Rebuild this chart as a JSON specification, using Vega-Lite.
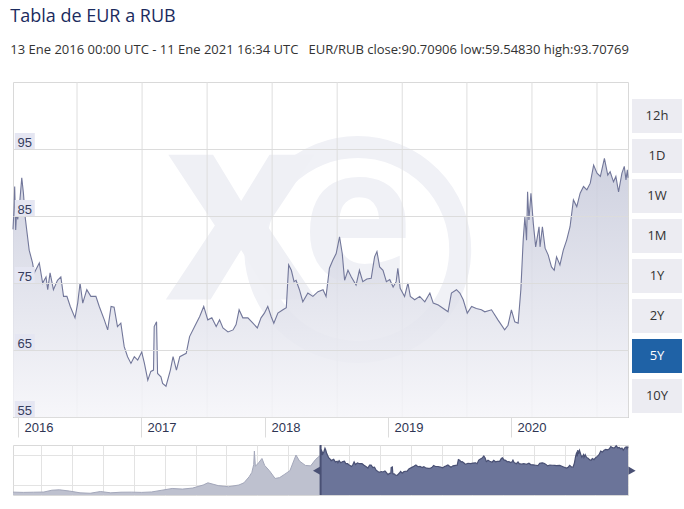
{
  "$schema": "https://vega.github.io/schema/vega-lite/v6.json",
  "background": "white",
  "padding": {"left": 10, "top": 8, "right": 4, "bottom": 4},
  "title": {
    "text": "Tabla de EUR a RUB",
    "subtitle": "13 Ene 2016 00:00 UTC - 11 Ene 2021 16:34 UTC\u00a0\u00a0\u00a0EUR/RUB close:90.70906 low:59.54830 high:93.70769",
    "anchor": "start",
    "font": "Open Sans",
    "fontSize": 18,
    "fontWeight": "normal",
    "color": "#1b2b5e",
    "subtitleFont": "Open Sans",
    "subtitleFontSize": 13,
    "subtitleColor": "#333333",
    "subtitlePadding": 18,
    "offset": 24
  },
  "config": {
    "view": {"stroke": "#d9d9d9"},
    "font": "Open Sans"
  },
  "datasets": {
    "main": [
      {"d": "2016-01-13", "v": 83.0}, {"d": "2016-01-16", "v": 86.0}, {"d": "2016-01-18", "v": 89.4},
      {"d": "2016-01-21", "v": 82.9}, {"d": "2016-01-24", "v": 85.9}, {"d": "2016-01-27", "v": 84.5},
      {"d": "2016-02-01", "v": 86.5}, {"d": "2016-02-08", "v": 90.7}, {"d": "2016-02-13", "v": 88.4},
      {"d": "2016-02-18", "v": 84.9}, {"d": "2016-02-22", "v": 83.2}, {"d": "2016-03-01", "v": 79.9},
      {"d": "2016-03-11", "v": 78.0}, {"d": "2016-03-16", "v": 76.5}, {"d": "2016-03-31", "v": 78.0},
      {"d": "2016-04-10", "v": 75.0}, {"d": "2016-04-20", "v": 75.9}, {"d": "2016-04-25", "v": 74.0},
      {"d": "2016-05-02", "v": 76.5}, {"d": "2016-05-12", "v": 74.0}, {"d": "2016-05-24", "v": 75.4},
      {"d": "2016-06-03", "v": 75.9}, {"d": "2016-06-11", "v": 73.0}, {"d": "2016-06-21", "v": 73.0},
      {"d": "2016-07-01", "v": 71.5}, {"d": "2016-07-15", "v": 69.8}, {"d": "2016-07-23", "v": 72.0},
      {"d": "2016-07-30", "v": 75.0}, {"d": "2016-08-07", "v": 72.0}, {"d": "2016-08-19", "v": 74.0},
      {"d": "2016-08-31", "v": 73.0}, {"d": "2016-09-15", "v": 73.0}, {"d": "2016-09-25", "v": 71.5},
      {"d": "2016-10-10", "v": 69.5}, {"d": "2016-10-20", "v": 68.0}, {"d": "2016-10-30", "v": 71.5},
      {"d": "2016-11-08", "v": 71.4}, {"d": "2016-11-18", "v": 68.5}, {"d": "2016-11-28", "v": 69.0},
      {"d": "2016-12-08", "v": 65.5}, {"d": "2016-12-18", "v": 64.0}, {"d": "2016-12-28", "v": 63.0},
      {"d": "2017-01-07", "v": 64.0}, {"d": "2017-01-17", "v": 63.5}, {"d": "2017-01-29", "v": 64.7},
      {"d": "2017-02-06", "v": 63.0}, {"d": "2017-02-16", "v": 60.5}, {"d": "2017-02-25", "v": 61.8},
      {"d": "2017-03-05", "v": 62.0}, {"d": "2017-03-07", "v": 68.5}, {"d": "2017-03-14", "v": 69.2},
      {"d": "2017-03-17", "v": 61.5}, {"d": "2017-03-27", "v": 61.0}, {"d": "2017-04-01", "v": 60.0},
      {"d": "2017-04-11", "v": 59.6}, {"d": "2017-04-24", "v": 62.0}, {"d": "2017-05-02", "v": 64.0},
      {"d": "2017-05-12", "v": 62.0}, {"d": "2017-05-22", "v": 64.0}, {"d": "2017-06-10", "v": 64.5},
      {"d": "2017-06-20", "v": 67.0}, {"d": "2017-07-05", "v": 68.5}, {"d": "2017-07-20", "v": 70.0},
      {"d": "2017-08-01", "v": 71.5}, {"d": "2017-08-13", "v": 69.5}, {"d": "2017-08-25", "v": 69.8},
      {"d": "2017-09-07", "v": 68.5}, {"d": "2017-09-17", "v": 69.5}, {"d": "2017-09-27", "v": 68.3},
      {"d": "2017-10-12", "v": 67.7}, {"d": "2017-10-27", "v": 68.0}, {"d": "2017-11-05", "v": 68.8},
      {"d": "2017-11-14", "v": 71.0}, {"d": "2017-11-25", "v": 69.8}, {"d": "2017-12-10", "v": 69.8},
      {"d": "2017-12-25", "v": 69.0}, {"d": "2018-01-07", "v": 68.3}, {"d": "2018-01-18", "v": 69.8},
      {"d": "2018-01-28", "v": 70.5}, {"d": "2018-02-07", "v": 71.5}, {"d": "2018-02-17", "v": 70.0},
      {"d": "2018-02-25", "v": 69.0}, {"d": "2018-03-09", "v": 70.5}, {"d": "2018-03-24", "v": 71.0},
      {"d": "2018-04-03", "v": 71.3}, {"d": "2018-04-10", "v": 77.7}, {"d": "2018-04-18", "v": 76.9},
      {"d": "2018-04-26", "v": 75.2}, {"d": "2018-05-02", "v": 75.4}, {"d": "2018-05-12", "v": 74.0},
      {"d": "2018-05-22", "v": 72.2}, {"d": "2018-06-06", "v": 73.5}, {"d": "2018-06-21", "v": 73.0},
      {"d": "2018-07-06", "v": 73.7}, {"d": "2018-07-21", "v": 74.0}, {"d": "2018-07-30", "v": 73.0},
      {"d": "2018-08-09", "v": 77.2}, {"d": "2018-08-19", "v": 78.4}, {"d": "2018-08-29", "v": 79.4},
      {"d": "2018-09-08", "v": 81.9}, {"d": "2018-09-16", "v": 79.4}, {"d": "2018-09-23", "v": 75.4},
      {"d": "2018-10-03", "v": 76.9}, {"d": "2018-10-13", "v": 75.9}, {"d": "2018-10-27", "v": 74.7},
      {"d": "2018-11-06", "v": 76.9}, {"d": "2018-11-16", "v": 75.2}, {"d": "2018-11-28", "v": 75.6},
      {"d": "2018-12-11", "v": 75.7}, {"d": "2018-12-21", "v": 78.9}, {"d": "2018-12-28", "v": 79.7},
      {"d": "2019-01-05", "v": 77.4}, {"d": "2019-01-15", "v": 76.9}, {"d": "2019-01-25", "v": 75.2},
      {"d": "2019-02-04", "v": 75.5}, {"d": "2019-02-14", "v": 74.4}, {"d": "2019-02-23", "v": 75.2},
      {"d": "2019-02-28", "v": 77.2}, {"d": "2019-03-07", "v": 74.2}, {"d": "2019-03-20", "v": 73.0},
      {"d": "2019-03-30", "v": 75.0}, {"d": "2019-04-06", "v": 73.0}, {"d": "2019-04-19", "v": 72.5},
      {"d": "2019-05-04", "v": 73.0}, {"d": "2019-05-19", "v": 72.2}, {"d": "2019-06-03", "v": 73.5},
      {"d": "2019-06-13", "v": 72.0}, {"d": "2019-06-28", "v": 71.7}, {"d": "2019-07-13", "v": 71.2},
      {"d": "2019-07-27", "v": 70.7}, {"d": "2019-08-06", "v": 73.5}, {"d": "2019-08-21", "v": 74.0},
      {"d": "2019-08-31", "v": 73.5}, {"d": "2019-09-10", "v": 72.5}, {"d": "2019-09-22", "v": 70.5},
      {"d": "2019-10-05", "v": 71.5}, {"d": "2019-10-19", "v": 71.2}, {"d": "2019-11-03", "v": 71.0},
      {"d": "2019-11-13", "v": 70.7}, {"d": "2019-12-03", "v": 71.0}, {"d": "2019-12-22", "v": 69.5},
      {"d": "2020-01-11", "v": 68.0}, {"d": "2020-01-21", "v": 68.7}, {"d": "2020-01-31", "v": 71.0},
      {"d": "2020-02-10", "v": 69.2}, {"d": "2020-02-20", "v": 69.0}, {"d": "2020-02-28", "v": 74.0},
      {"d": "2020-03-06", "v": 81.4}, {"d": "2020-03-11", "v": 84.9}, {"d": "2020-03-16", "v": 81.4},
      {"d": "2020-03-19", "v": 88.6}, {"d": "2020-03-23", "v": 84.4}, {"d": "2020-03-29", "v": 88.4},
      {"d": "2020-04-05", "v": 83.9}, {"d": "2020-04-12", "v": 80.4}, {"d": "2020-04-22", "v": 83.4},
      {"d": "2020-04-25", "v": 80.4}, {"d": "2020-05-02", "v": 83.4}, {"d": "2020-05-10", "v": 80.2},
      {"d": "2020-05-19", "v": 79.2}, {"d": "2020-05-29", "v": 77.4}, {"d": "2020-06-06", "v": 76.9},
      {"d": "2020-06-13", "v": 78.9}, {"d": "2020-06-23", "v": 77.7}, {"d": "2020-07-03", "v": 79.9},
      {"d": "2020-07-13", "v": 81.4}, {"d": "2020-07-23", "v": 83.4}, {"d": "2020-08-02", "v": 87.4},
      {"d": "2020-08-12", "v": 86.4}, {"d": "2020-08-22", "v": 88.4}, {"d": "2020-09-01", "v": 89.4},
      {"d": "2020-09-11", "v": 88.9}, {"d": "2020-09-21", "v": 89.9}, {"d": "2020-10-01", "v": 92.6},
      {"d": "2020-10-11", "v": 91.4}, {"d": "2020-10-21", "v": 90.9}, {"d": "2020-11-02", "v": 93.6},
      {"d": "2020-11-12", "v": 91.1}, {"d": "2020-11-19", "v": 91.6}, {"d": "2020-11-29", "v": 90.1},
      {"d": "2020-12-06", "v": 90.9}, {"d": "2020-12-14", "v": 88.6}, {"d": "2020-12-24", "v": 91.4},
      {"d": "2020-12-31", "v": 92.4}, {"d": "2021-01-05", "v": 90.4}, {"d": "2021-01-09", "v": 91.9},
      {"d": "2021-01-11", "v": 90.7}
    ],
    "hist": [
      {"d": "2011-01-13", "v": 40.3}, {"d": "2011-03-15", "v": 40.0}, {"d": "2011-05-15", "v": 40.2},
      {"d": "2011-07-15", "v": 40.4}, {"d": "2011-09-01", "v": 42.5}, {"d": "2011-10-15", "v": 43.0},
      {"d": "2011-12-15", "v": 41.5}, {"d": "2012-02-15", "v": 39.5}, {"d": "2012-04-15", "v": 39.0},
      {"d": "2012-06-15", "v": 41.0}, {"d": "2012-08-15", "v": 39.5}, {"d": "2012-10-15", "v": 40.2},
      {"d": "2012-12-15", "v": 40.3}, {"d": "2013-02-15", "v": 40.0}, {"d": "2013-04-15", "v": 40.5},
      {"d": "2013-06-15", "v": 42.5}, {"d": "2013-08-15", "v": 44.5}, {"d": "2013-10-15", "v": 43.8},
      {"d": "2013-12-15", "v": 45.0}, {"d": "2014-02-15", "v": 48.5}, {"d": "2014-03-15", "v": 51.0},
      {"d": "2014-05-15", "v": 47.8}, {"d": "2014-07-15", "v": 46.5}, {"d": "2014-09-15", "v": 48.5},
      {"d": "2014-10-15", "v": 51.0}, {"d": "2014-11-15", "v": 58.0}, {"d": "2014-12-01", "v": 63.0},
      {"d": "2014-12-12", "v": 72.0}, {"d": "2014-12-16", "v": 87.5}, {"d": "2014-12-22", "v": 70.0},
      {"d": "2015-01-10", "v": 74.0}, {"d": "2015-01-30", "v": 79.0}, {"d": "2015-02-15", "v": 71.0},
      {"d": "2015-03-15", "v": 65.0}, {"d": "2015-04-18", "v": 56.0}, {"d": "2015-05-15", "v": 57.0},
      {"d": "2015-06-15", "v": 61.0}, {"d": "2015-07-15", "v": 65.0}, {"d": "2015-08-20", "v": 83.0},
      {"d": "2015-09-10", "v": 76.0}, {"d": "2015-10-15", "v": 71.0}, {"d": "2015-11-15", "v": 70.5},
      {"d": "2015-12-15", "v": 78.0}, {"d": "2016-01-13", "v": 83.0}
    ],
    "vgrid": [
      {"d": "2016-07-21"}, {"d": "2017-01-30"}, {"d": "2017-08-11"}, {"d": "2018-02-20"},
      {"d": "2018-09-01"}, {"d": "2019-03-13"}, {"d": "2019-09-21"}, {"d": "2020-04-01"},
      {"d": "2020-10-11"}
    ],
    "ylabels": [{"v": 55}, {"v": 65}, {"v": 75}, {"v": 85}, {"v": 95}],
    "buttons": [
      {"b": "12h"}, {"b": "1D"}, {"b": "1W"}, {"b": "1M"},
      {"b": "1Y"}, {"b": "2Y"}, {"b": "5Y"}, {"b": "10Y"}
    ]
  },
  "spacing": 4,
  "vconcat": [
    {
      "spacing": 1,
      "hconcat": [
        {
          "width": 615,
          "height": 335,
          "layer": [
            {
              "data": {"values": [{}]},
              "mark": {"type": "point", "shape": "circle", "filled": false, "stroke": "#f0f1f6", "strokeWidth": 22, "size": 42000, "opacity": 1, "clip": true},
              "encoding": {
                "x": {"datum": {"year": 2018, "month": 11, "date": 1}, "type": "temporal"},
                "y": {"datum": 80.0, "type": "quantitative"}
              }
            },
            {
              "data": {"values": [{}]},
              "mark": {"type": "text", "text": "x", "font": "Open Sans", "fontWeight": "bold", "fontSize": 265, "color": "#eff0f5", "baseline": "middle", "align": "center", "dy": -30, "clip": true},
              "encoding": {
                "x": {"datum": {"year": 2017, "month": 11, "date": 20}, "type": "temporal"},
                "y": {"datum": 80, "type": "quantitative"}
              }
            },
            {
              "data": {"values": [{}]},
              "mark": {"type": "text", "text": "e", "font": "Open Sans", "fontWeight": "bold", "fontSize": 190, "color": "#f0f1f6", "baseline": "middle", "align": "center", "dy": -24, "clip": true},
              "encoding": {
                "x": {"datum": {"year": 2018, "month": 11, "date": 1}, "type": "temporal"},
                "y": {"datum": 80.0, "type": "quantitative"}
              }
            },
            {
              "data": {"name": "vgrid"},
              "mark": {"type": "rule", "color": "#dedede", "strokeWidth": 1},
              "encoding": {"x": {"field": "d", "type": "temporal"}}
            },
            {
              "data": {"name": "main"},
              "mark": {
                "type": "area",
                "opacity": 0.85,
                "line": {"color": "#72779a", "strokeWidth": 1.1, "opacity": 1},
                "color": {
                  "gradient": "linear", "x1": 0, "y1": 0, "x2": 0, "y2": 1,
                  "stops": [
                    {"offset": 0, "color": "#c6c9da"},
                    {"offset": 1, "color": "#f5f5f9"}
                  ]
                }
              },
              "encoding": {
                "x": {
                  "field": "d", "type": "temporal",
                  "scale": {"domain": [{"year": 2016, "month": 1, "date": 13}, {"year": 2021, "month": 1, "date": 11}]},
                  "axis": {
                    "values": [
                      {"year": 2016, "month": 1, "date": 28}, {"year": 2017, "month": 1, "date": 27},
                      {"year": 2018, "month": 1, "date": 30}, {"year": 2019, "month": 1, "date": 30},
                      {"year": 2020, "month": 1, "date": 30}
                    ],
                    "format": "%Y", "grid": false, "title": null,
                    "domainColor": "#a7abbd", "tickColor": "#dcdcdc", "tickSize": 20,
                    "labelPadding": -16, "labelAlign": "left", "labelBaseline": "top", "labelOffset": 6,
                    "labelFont": "Liberation Sans", "labelFontSize": 13, "labelColor": "#2e3553",
                    "labelFlush": false, "labelOverlap": false, "labelBound": false
                  }
                },
                "y": {
                  "field": "v", "type": "quantitative",
                  "scale": {"domain": [55, 105], "zero": false, "nice": false},
                  "axis": {
                    "values": [55, 65, 75, 85, 95], "grid": true, "gridColor": "#dcdcdc",
                    "domain": false, "ticks": false, "title": null,
                    "labelAlign": "left", "labelPadding": -4, "labelBaseline": "alphabetic", "labelOffset": -3,
                    "labelFont": "Liberation Sans", "labelFontSize": 13, "labelColor": "#363d5e",
                    "zindex": 1
                  }
                },
                "y2": {"datum": 55}
              }
            },
            {
              "data": {"name": "ylabels"},
              "mark": {"type": "tick", "orient": "horizontal", "size": 20, "thickness": 16, "color": "#e5e6f2", "opacity": 1, "yOffset": -8},
              "encoding": {
                "x": {"datum": {"year": 2016, "month": 2, "date": 17}, "type": "temporal"},
                "y": {"field": "v", "type": "quantitative"}
              }
            }
          ]
        },
        {
          "width": 50,
          "height": 335,
          "view": {"stroke": null},
          "data": {"name": "buttons"},
          "layer": [
            {
              "mark": {"type": "rect"},
              "encoding": {
                "y": {"field": "b", "type": "nominal", "sort": null, "scale": {"range": [17, 331], "paddingInner": 0.15, "paddingOuter": 0}, "axis": null},
                "x": {"datum": 0, "type": "quantitative", "scale": {"domain": [0, 1]}, "axis": null},
                "x2": {"datum": 1},
                "color": {"condition": {"test": "datum.b === '5Y'", "value": "#1f62a6"}, "value": "#ececf2"}
              }
            },
            {
              "mark": {"type": "text", "font": "Open Sans", "fontSize": 13},
              "encoding": {
                "y": {"field": "b", "type": "nominal", "sort": null},
                "x": {"datum": 0.5, "type": "quantitative"},
                "text": {"field": "b"},
                "color": {"condition": {"test": "datum.b === '5Y'", "value": "#ffffff"}, "value": "#333333"}
              }
            }
          ]
        }
      ]
    },
    {
      "width": 615,
      "height": 50,
      "layer": [
        {
          "data": {"name": "hist"},
          "mark": {"type": "area", "color": "#bec1cf", "opacity": 1, "line": {"color": "#a3a7ba", "strokeWidth": 1}},
          "encoding": {
            "x": {
              "field": "d", "type": "temporal",
              "scale": {"domain": [{"year": 2011, "month": 1, "date": 13}, {"year": 2021, "month": 1, "date": 11}]},
              "axis": {"grid": true, "gridColor": "#e3e3e3", "labels": false, "ticks": false, "domain": false, "title": null, "tickCount": {"interval": "month", "step": 6}}
            },
            "y": {
              "field": "v", "type": "quantitative",
              "scale": {"domain": [37, 94.5], "zero": false, "nice": false},
              "axis": {"values": [48.5, 60, 71.5, 83], "grid": true, "gridColor": "#e3e3e3", "labels": false, "ticks": false, "domain": false, "title": null}
            },
            "y2": {"datum": 37}
          }
        },
        {
          "data": {"name": "main"},
          "mark": {"type": "area", "color": "#6b7499", "opacity": 1, "line": {"color": "#495074", "strokeWidth": 1.2}},
          "encoding": {
            "x": {"field": "d", "type": "temporal"},
            "y": {"field": "v", "type": "quantitative"},
            "y2": {"datum": 37}
          }
        },
        {
          "data": {"values": [{}]},
          "mark": {"type": "rule", "color": "#495074", "strokeWidth": 2},
          "encoding": {"x": {"datum": {"year": 2016, "month": 1, "date": 13}, "type": "temporal"}}
        },
        {
          "data": {"values": [{}]},
          "mark": {"type": "point", "shape": "triangle-left", "filled": true, "size": 70, "color": "#495074", "opacity": 1, "xOffset": -4},
          "encoding": {
            "x": {"datum": {"year": 2016, "month": 1, "date": 13}, "type": "temporal"},
            "y": {"datum": 65, "type": "quantitative"}
          }
        },
        {
          "data": {"values": [{}]},
          "mark": {"type": "point", "shape": "triangle-right", "filled": true, "size": 70, "color": "#495074", "opacity": 1, "xOffset": 4},
          "encoding": {
            "x": {"datum": {"year": 2021, "month": 1, "date": 11}, "type": "temporal"},
            "y": {"datum": 65, "type": "quantitative"}
          }
        }
      ]
    }
  ]
}
